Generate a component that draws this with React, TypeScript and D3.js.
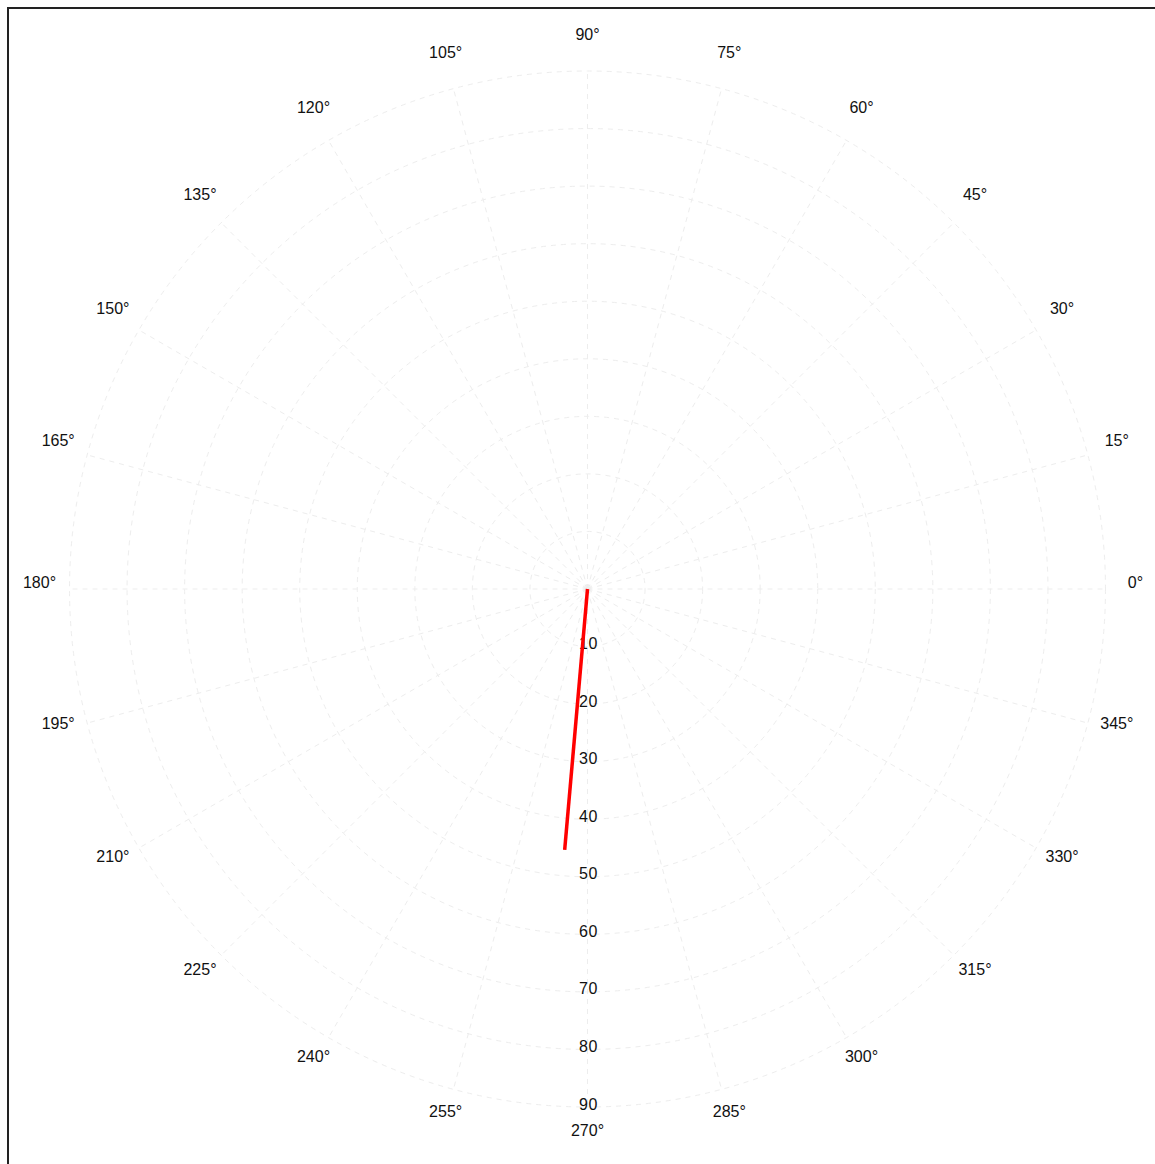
import React from "react";
import * as d3 from "d3";

// Data
const thetaDeg: number[] = [265, 265];
const rValues: number[] = [0, 45.5];

// Axis ticks
const radialTicks: number[] = [10, 20, 30, 40, 50, 60, 70, 80, 90];
const angularTicks: number[] = d3.range(0, 360, 15);

const W = 1155;
const H = 1164;
const cx = 587.5;
const cy = 589;
const rMax = 518;

export default function App() {
  const r = d3.scaleLinear().domain([0, 90]).range([0, rMax]);
  const toXY = (deg: number, rad: number): [number, number] => {
    const a = (deg * Math.PI) / 180;
    return [cx + rad * Math.cos(a), cy - rad * Math.sin(a)];
  };
  const lineGen = d3
    .line<number>()
    .x((_, i) => toXY(thetaDeg[i], r(rValues[i]))[0])
    .y((_, i) => toXY(thetaDeg[i], r(rValues[i]))[1]);

  const labelR = 548;
  const font = "'Liberation Sans', Arial, sans-serif";
  const gridColor = "#ededed";

  return (
    <svg
      width={W}
      height={H}
      style={{ position: "fixed", left: 0, top: 0, background: "#fff" }}
    >
      <rect x={0} y={0} width={W} height={H} fill="#fff" />
      <rect
        x={8}
        y={8}
        width={W + 20}
        height={H + 20}
        fill="none"
        stroke="#222"
        strokeWidth={2}
      />
      {/* circles */}
      {radialTicks.map((t) => (
        <circle
          key={"c" + t}
          cx={cx}
          cy={cy}
          r={r(t)}
          fill="none"
          stroke={gridColor}
          strokeWidth={1}
          strokeDasharray="5,5"
        />
      ))}
      {/* spokes */}
      {angularTicks.map((a) => {
        const [x2, y2] = toXY(a, r(90));
        return (
          <line
            key={"s" + a}
            x1={cx}
            y1={cy}
            x2={x2}
            y2={y2}
            stroke={gridColor}
            strokeWidth={1}
            strokeDasharray="5,5"
          />
        );
      })}
      {/* radial labels */}
      {radialTicks.map((t) => (
        <text
          key={"rl" + t}
          x={cx + 1}
          y={cy + r(t) - 3}
          textAnchor="middle"
          dominantBaseline="central"
          fontFamily={font}
          fontSize={16}
          fill="#111"
          letterSpacing={0.5}
        >
          {t}
        </text>
      ))}
      {/* angular labels */}
      {angularTicks.map((a) => {
        const [x, y] = toXY(a, labelR);
        return (
          <text
            key={"al" + a}
            x={x}
            y={y - 7}
            textAnchor="middle"
            dominantBaseline="central"
            fontFamily={font}
            fontSize={16}
            fill="#111"
          >
            {a + "°"}
          </text>
        );
      })}
      {/* data line */}
      <path
        d={lineGen(rValues) || ""}
        fill="none"
        stroke="#ff0000"
        strokeWidth={3.5}
      />
    </svg>
  );
}
